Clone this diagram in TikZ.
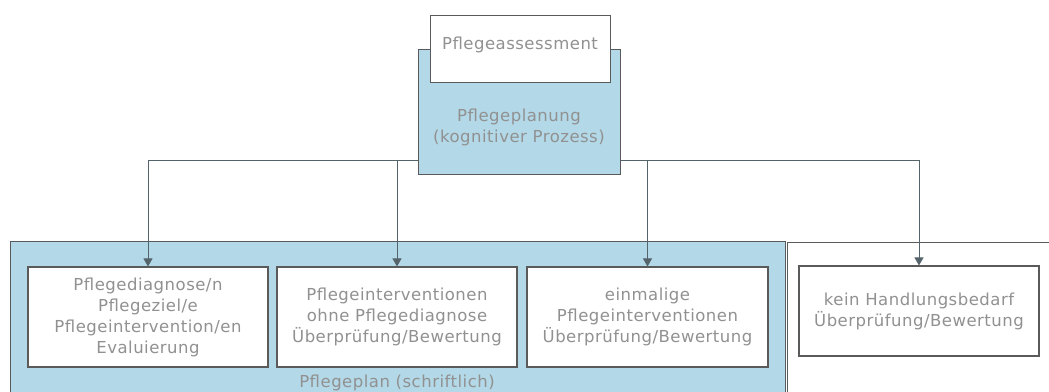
\documentclass[tikz,border=0pt]{standalone}
\usepackage{fontspec}
\setmainfont[LetterSpace=3]{DejaVu Sans}
\usetikzlibrary{arrows.meta}
\definecolor{bluefill}{RGB}{179,216,231}
\definecolor{txt}{RGB}{145,145,145}
\definecolor{edge}{RGB}{90,90,90}
\definecolor{conn}{RGB}{85,100,107}
\tikzset{
  box/.style={draw=edge, line width=1.1pt, fill=white, text=txt, align=center, inner sep=0pt,
    font=\fontsize{16.5}{21}\selectfont},
  outer/.style={draw=edge, line width=0.9pt, inner sep=0pt},
  conn/.style={draw=conn, line width=1pt},
  arr/.style={conn, -{Triangle[width=9pt,length=8pt]}},
}
\begin{document}
\begin{tikzpicture}[x=1pt,y=-1pt]
\useasboundingbox (0,0) rectangle (1049,391);
\clip (0,0) rectangle (1049,391);
% outer containers
\node[outer, fill=bluefill, minimum width=775pt, minimum height=170pt, anchor=north west] (plan) at (10,241) {};
\node[outer, fill=white, minimum width=270pt, minimum height=170pt, anchor=north west] (none) at (787,242) {};
\node[text=txt, font=\fontsize{16.5}{20}\selectfont] (planlabel) at (397,383) {Pflegeplan (schriftlich)};
% junction line
\coordinate (j) at (519,160);
\node[minimum width=240pt, minimum height=100pt, box] (b1) at (148,317) {Pflegediagnose/n\\Pflegeziel/e\\Pflegeintervention/en\\Evaluierung};
\node[minimum width=240pt, minimum height=100pt, box] (b2) at (397,317) {Pflegeinterventionen\\ohne Pflegediagnose\\Überprüfung/Bewertung};
\node[minimum width=241pt, minimum height=100pt, box] (b3) at (647.5,317) {einmalige\\Pflegeinterventionen\\Überprüfung/Bewertung};
\node[minimum width=240pt, minimum height=90pt, box] (b4) at (919,311) {kein Handlungsbedarf\\Überprüfung/Bewertung};
\draw[conn] (j -| b1.north) -- (j -| b4.north);
\draw[arr] (j -| b1.north) -- (b1.north);
\draw[arr] (j -| b2.north) -- (b2.north);
\draw[arr] (j -| b3.north) -- (b3.north);
\draw[arr] (j -| b4.north) -- (b4.north);
% top
\node[box, fill=bluefill, minimum width=202pt, minimum height=125pt, anchor=north west] (planung) at (418,49) {};
\node[text=txt, align=center, font=\fontsize{16.5}{21}\selectfont] (planungtext) at (519,127) {Pflegeplanung\\(kognitiver Prozess)};
\node[box, minimum width=180pt, minimum height=67pt, anchor=north west] (assess) at (430,15) {};
\node[text=txt, font=\fontsize{16.5}{20}\selectfont] (assesstext) at (520,45) {Pflegeassessment};
\end{tikzpicture}
\end{document}
